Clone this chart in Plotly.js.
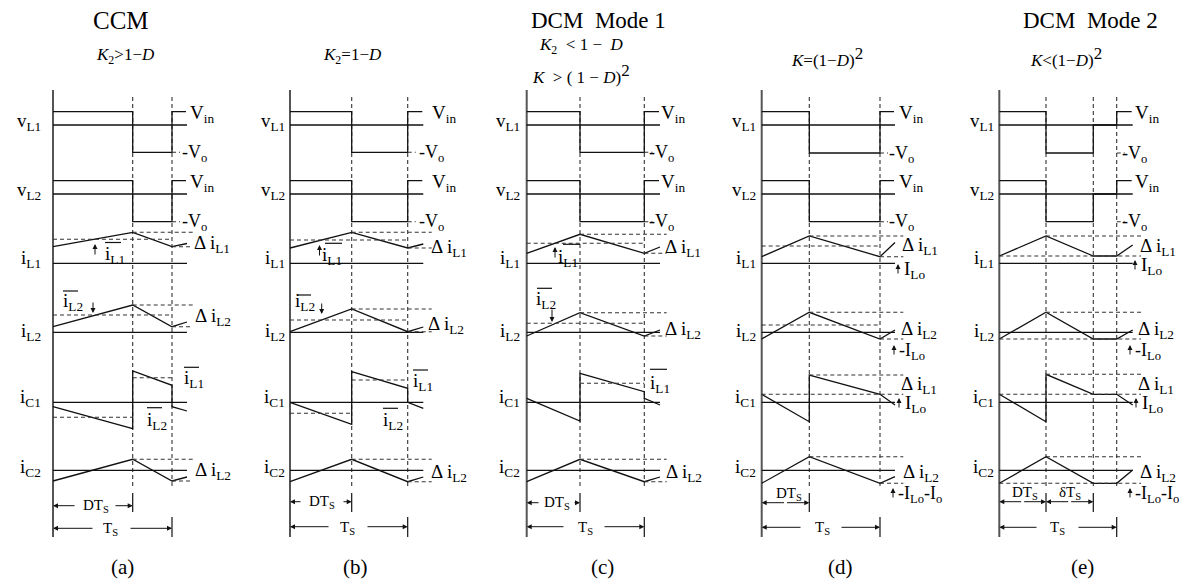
<!DOCTYPE html>
<html><head><meta charset="utf-8">
<script src="https://cdn.plot.ly/plotly-3.0.1.min.js"></script>
<style>html,body{margin:0;padding:0;background:#fff}#chart{width:1203px;height:580px}</style>
</head><body><div id="chart"></div>
<script>
// ---- panel time grid (t = 0, DTs, deltaTs, Ts, end of sketch) ----
const panelNames = ['(a)', '(b)', '(c)', '(d)', '(e)'];
const x0 = [53, 290, 526.7, 761.7, 999.3];
const xD = [132.7, 351.7, 580, 809.3, 1046];
const xDelta = [null, null, null, null, 1093.3];
const xT = [172, 407.7, 644.3, 880, 1116.7];
const xEnd = [187, 423.3, 660, 895, 1132.7];
const xDashEnd = [193, 431.7, 666.7, 903.3, 1141];

// ---- rows ----
const rowNames = ['v<sub>L1</sub>', 'v<sub>L2</sub>', 'i<sub>L1</sub>', 'i<sub>L2</sub>', 'i<sub>C1</sub>', 'i<sub>C2</sub>'];
const rowZero = [125, 194, 263.3, 332.3, 402.3, 470.3];
const rowLabelY = [122, 191, 259, 332, 398, 468];
const rowLabelRight = [42, 286, 521, 757, 995];

// ---- waveform levels ----
const vL1Top = [111.7, 111.7, 111.7, 111.7, 111.7];
const vL1Bot = [152.3, 152.3, 152.3, 153, 153];
const vL2Top = [180.7, 180.7, 180.7, 180.7, 180.7];
const vL2Bot = [221.7, 221.7, 221.7, 221.7, 221.7];

const iL1Min = [246.7, 248, 253.3, 256.7, 256];
const iL1Max = [232.3, 232.3, 234.3, 236, 236];
const iL1Mean = [239.3, 240, 243.3, 246, null];
const iL1EndY = [243.5, 244, 247, 242.5, 245];

const iL2Min = [326.7, 331.7, 336, 339, 339];
const iL2Max = [305, 309, 312.7, 312.3, 312.3];
const iL2Mean = [315, 320, 323.3, 325, null];
const iL2EndY = [322, 327, 330, 330, 330];

const iC1Start = [406.7, 402.3, 398.3, 394.3, 394.3];
const iC1AtD = [428.7, 424.3, 421, 421.7, 421.7];
const iC1Peak = [371, 371.7, 373.3, 375, 374.3];
const iC1AtT = [385.3, 388.3, 391.7, 394.3, 394.3];
const iC1EndY = [411, 408.3, 405, 405, 405];
const iC1MeanL1 = [377.7, 380, 383.3, null, null];
const iC1MeanL2 = [417.3, 413.3, null, null, null];

const iC2Min = [481, 481.7, 481.7, 483.3, 483.3];
const iC2Max = [459.3, 459.3, 459.3, 456.7, 456.7];
const iC2EndY = [477, 477, 477, 476.7, 470];

// ---- titles ----
const modeTitles = ['CCM', '', 'DCM\u00a0 Mode 1', '', 'DCM\u00a0 Mode 2'];
const modeTitleX = [121, null, 598, null, 1090];
const modeTitleSize = [25, 0, 23, 0, 23];
const SUB2 = '<sub>2</sub>';
const SUP2 = '<sup><span style="font-size:17px">2</span></sup>';
const condTitles = [
  '<i>K</i>' + SUB2 + '&gt;1\u2212<i>D</i>',
  '<i>K</i>' + SUB2 + '=1\u2212<i>D</i>',
  '<i>K</i>' + SUB2 + ' \u00a0&lt; 1 \u2212 \u00a0<i>D</i>',
  '<i>K</i>=(1\u2212<i>D</i>)' + SUP2,
  '<i>K</i>&lt;(1\u2212<i>D</i>)' + SUP2
];
const condX = [125, 352, 581, 827, 1066];
const condY = [56, 56, 46, 57, 57];
const cond2Text = '<i>K</i> \u00a0&gt; ( 1 \u2212 <i>D</i>)' + SUP2;
const panelLabelX = [122, 355, 602, 840, 1082];

// ---- right-hand labels ----
const vinX = [189, 431, 660, 898, 1134];
const voX = [181, 418, 648, 888, 1121];
const dL1X = [193, 430, 664, 901, 1139];
const dL1Y = [244, 248, 248, 246, 247];
const dL2X = [194, 427, 664, 900, 1137];
const dL2Y = [317, 325, 330, 330, 330];
const dC2X = [194, 430, 665, 902, 1139];
const dC2Y = [471, 473, 473, 473, 473];

// ---- time-interval arrows ----
const dtsY = [505.7, 501.7, 502.7, 502.7, 501.7];
const tsY = [528.3, 526.7, 526.7, 527.3, 527.3];
const dtsTextX = [96, 322, 556.7, 789, 1025];
const tsTextX = [110, 347, 585, 822, 1057];
const dtsGap = [[76, 114], [302, 342], [540, 573], null, null];
const tsGap = [[94, 129], [330, 366], [565, 603], [802, 840], [1038, 1077]];

const FONT = 'Liberation Serif, Times New Roman, serif';
const C = '#111';
const traces = [], ann = [], shapes = [];

function line(xs, ys, color, width, dash) {
  traces.push({type: 'scatter', mode: 'lines', x: xs, y: ys, hoverinfo: 'skip', showlegend: false,
    line: {color: color || C, width: width || 1.3, dash: dash || 'solid'}});
}
function dashed(xs, ys) { line(xs, ys, '#333', 1.1, '4px,3px'); }
function txt(x, y, text, size, xanchor, yanchor) {
  ann.push({x: x, y: y, xref: 'x', yref: 'y', text: text, showarrow: false,
    xanchor: xanchor || 'left', yanchor: yanchor || 'middle', borderpad: 0,
    font: {family: FONT, size: size, color: '#000'}});
}
function arrow(xh, yh, xt, yt, size) {
  ann.push({x: xh, y: yh, ax: xt, ay: yt, xref: 'x', yref: 'y', axref: 'x', ayref: 'y',
    text: '', showarrow: true, arrowhead: 2, arrowsize: size || 1, arrowwidth: 1, arrowcolor: C, standoff: 0, startstandoff: 0});
}
function up(x, yBottom, len) { arrow(x, yBottom - (len || 12), x, yBottom, 1); }
function down(x, yTop, len) { arrow(x, yTop + (len || 12), x, yTop, 1); }
function overline(xl, xr, y) {
  shapes.push({type: 'line', xref: 'x', yref: 'y', x0: xl, x1: xr, y0: y, y1: y, line: {color: '#111', width: 1.2}});
}

for (let p = 0; p < 5; p++) {
  const a = x0[p], d = xD[p], dl = xDelta[p], t = xT[p], e = xEnd[p], de = xDashEnd[p];
  // left axis & grid
  line([a, a], [90, 537], '#555', 2);
  [d, dl, t].forEach(v => { if (v != null) dashed([v, v], [97, 488]); });
  line([d, d], [493, 512], C, 1.2);
  if (dl != null) line([dl, dl], [493, 512], C, 1.2);
  line([t, t], [517, 537], C, 1.2);
  rowZero.forEach(z => line([a, e], [z, z]));

  // inductor voltages
  [[vL1Top, vL1Bot, 0], [vL2Top, vL2Bot, 1]].forEach(([T, B, r]) => {
    const z = rowZero[r];
    if (dl == null) line([a, d, d, t, t, e - 1], [T[p], T[p], B[p], B[p], T[p], T[p]]);
    else line([a, d, d, dl, dl, t, t, e - 1], [T[p], T[p], B[p], B[p], z, z, T[p], T[p]]);
    dashed([t, t + 8], [B[p], B[p]]);
    txt(vinX[p], T[p] + 2, 'V<sub>in</sub>', 19);
    txt(voX[p], B[p] + 1, '-V<sub>o</sub>', 18);
  });

  // triangular currents
  [[iL1Min, iL1Max, iL1Mean, iL1EndY], [iL2Min, iL2Max, iL2Mean, iL2EndY], [iC2Min, iC2Max, null, iC2EndY]].forEach(([mn, mx, mean, en]) => {
    if (dl == null) line([a, d, t, e], [mn[p], mx[p], mn[p], en[p]]);
    else line([a, d, dl, t, e], [mn[p], mx[p], mn[p], mn[p], en[p]]);
    dashed([d, de], [mx[p], mx[p]]);
    dashed([dl == null ? t : a, de], [mn[p], mn[p]]);
    if (mean && mean[p] != null) dashed([a, t], [mean[p], mean[p]]);
  });

  // capacitor C1 current
  if (dl == null) line([a, d, d, t, t, e], [iC1Start[p], iC1AtD[p], iC1Peak[p], iC1AtT[p], iC1Start[p], iC1EndY[p]]);
  else line([a, d, d, dl, t, e], [iC1Start[p], iC1AtD[p], iC1Peak[p], iC1AtT[p], iC1AtT[p], iC1EndY[p]]);
  if (iC1MeanL1[p] != null) dashed([d, t], [iC1MeanL1[p], iC1MeanL1[p]]);
  if (iC1MeanL2[p] != null) dashed([a, d], [iC1MeanL2[p], iC1MeanL2[p]]);
  if (p >= 3) {
    dashed([d, de], [iC1Peak[p], iC1Peak[p]]);
    dashed([a, de], [iC1Start[p], iC1Start[p]]);
  }

  // row labels
  rowNames.forEach((n, r) => txt(rowLabelRight[p], rowLabelY[r], n, 19, 'right'));

  // delta labels
  txt(dL1X[p], dL1Y[p], '\u0394 i<sub>L1</sub>', 19);
  txt(dL2X[p], dL2Y[p], '\u0394 i<sub>L2</sub>', 19);
  txt(dC2X[p], dC2Y[p], '\u0394 i<sub>L2</sub>', 19);

  // titles
  if (modeTitles[p]) txt(modeTitleX[p], 20, modeTitles[p], modeTitleSize[p], 'center');
  txt(condX[p], condY[p], condTitles[p], 17, 'center');
  txt(panelLabelX[p], 567, panelNames[p], 21, 'center');

  // time arrows
  if (dtsGap[p]) {
    arrow(a, dtsY[p], dtsGap[p][0], dtsY[p]);
    arrow(d, dtsY[p], dtsGap[p][1], dtsY[p]);
    txt(dtsTextX[p], dtsY[p], 'DT<sub>S</sub>', 15, 'center');
  } else {
    const m = (a + d) / 2;
    arrow(a, dtsY[p], m, dtsY[p]); arrow(d, dtsY[p], m, dtsY[p]);
    txt(dtsTextX[p], dtsY[p] - 9, 'DT<sub>S</sub>', 15, 'center');
  }
  if (dl != null) {
    const m2 = (d + dl) / 2;
    arrow(d, dtsY[p], m2, dtsY[p]); arrow(dl, dtsY[p], m2, dtsY[p]);
    txt(m2, dtsY[p] - 9, '\u03b4T<sub>S</sub>', 15, 'center');
  }
  arrow(a, tsY[p], tsGap[p][0], tsY[p]);
  arrow(t, tsY[p], tsGap[p][1], tsY[p]);
  txt(tsTextX[p], tsY[p] + 1, 'T<sub>S</sub>', 15, 'center');
}

// second condition line in (c)
txt(581, 74, cond2Text, 17, 'center');

// mean current labels
// (a)
up(95, 256);
txt(104, 255, 'i<sub>L1</sub>', 19); overline(105, 121, 242.5);
txt(62, 302, 'i<sub>L2</sub>', 19); overline(63, 78, 291);
down(93, 301);
txt(183, 379, 'i<sub>L1</sub>', 19); overline(184, 199, 367.3);
txt(146, 421, 'i<sub>L2</sub>', 19); overline(147, 162, 407.7);
// (b)
up(319.5, 257);
txt(321, 256, 'i<sub>L1</sub>', 19); overline(325, 342, 243.3);
txt(294, 302, 'i<sub>L2</sub>', 19); overline(297, 311, 295);
down(321.7, 302);
txt(412, 382, 'i<sub>L1</sub>', 19); overline(413, 428, 370);
txt(382, 421, 'i<sub>L2</sub>', 19); overline(383, 398, 408.3);
// (c)
up(555, 259);
txt(557, 258, 'i<sub>L1</sub>', 19); overline(563, 580, 244.3);
txt(535, 300, 'i<sub>L2</sub>', 19); overline(537, 552, 288.3);
down(552, 308, 14);
txt(649, 384, 'i<sub>L1</sub>', 19); overline(650, 667, 369.3);

// (d), (e) DCM labels
const iLoX1 = [898, 1135], iLoY1 = [270, 266];
const iLoX2 = [894, 1130];
const iLoX3 = [899, 1136];
const iLoX4 = [893, 1130];
const dC1X = [900, 1137];
[3, 4].forEach((p, k) => {
  up(iLoX1[k], iLoY1[k] + 5, 11); txt(iLoX1[k] + 5, iLoY1[k], 'I<sub>Lo</sub>', 19);
  up(iLoX2[k], 356, 11); txt(iLoX2[k] + 4, 351, '-I<sub>Lo</sub>', 18);
  txt(dC1X[k], 385, '\u0394 i<sub>L1</sub>', 19);
  up(iLoX3[k], 409, 11); txt(iLoX3[k] + 5, 404, 'I<sub>Lo</sub>', 19);
  up(iLoX4[k], 499, 11); txt(iLoX4[k] + 4, 494, '-I<sub>Lo</sub>-I<sub>o</sub>', 18);
});

const layout = {
  width: 1203, height: 580, margin: {l: 0, r: 0, t: 0, b: 0},
  paper_bgcolor: '#fff', plot_bgcolor: '#fff', showlegend: false,
  xaxis: {range: [0, 1203], visible: false, fixedrange: true},
  yaxis: {range: [580, 0], visible: false, fixedrange: true},
  annotations: ann, shapes: shapes
};
Plotly.newPlot('chart', traces, layout, {displayModeBar: false, staticPlot: true});
</script>
</body></html>
